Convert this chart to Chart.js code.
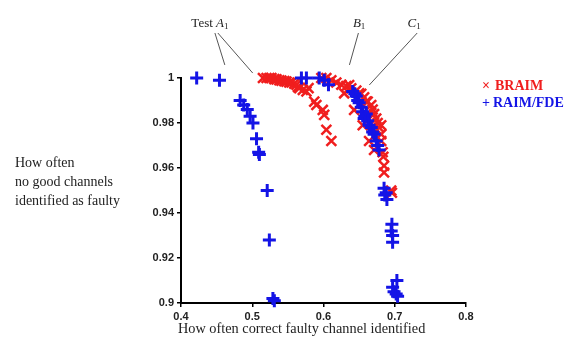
<!DOCTYPE html>
<html>
<head>
<meta charset="utf-8">
<script src="https://cdn.jsdelivr.net/npm/chart.js@4/dist/chart.umd.min.js"></script>
<style>
  html, body { margin: 0; padding: 0; background: #fff; }
  #wrap { width: 568px; height: 345px; }
</style>
</head>
<body>
<div id="wrap"><canvas id="grafico"></canvas></div>
<script>
// BRAIM (red x) - both test groups
const braimX = [
  0.515, 0.520, 0.524, 0.527, 0.531, 0.534, 0.538, 0.541, 0.545, 0.548, 0.552, 0.555, 0.559, 0.562,
  0.564, 0.566, 0.571, 0.576, 0.579, 0.587, 0.590, 0.599, 0.601, 0.604, 0.611,
  0.597, 0.604, 0.611, 0.618, 0.625, 0.632, 0.636, 0.639, 0.646, 0.650, 0.653, 0.657, 0.660, 0.662,
  0.667, 0.669, 0.671, 0.674, 0.676, 0.678, 0.681, 0.681, 0.681, 0.683, 0.684, 0.685, 0.685,
  0.629, 0.643, 0.655, 0.664, 0.671, 0.695, 0.696
];
const braimY = [
  1.000, 1.000, 1.000, 1.000, 0.9995, 0.9994, 0.999, 0.9988, 0.9986, 0.9984, 0.998, 0.998, 0.9975, 0.997,
  0.996, 0.9955, 0.9947, 0.994, 0.9955, 0.9895, 0.988, 0.9858, 0.9836, 0.977, 0.972,
  1.000, 1.000, 0.999, 0.998, 0.997, 0.9964, 0.9969, 0.9954, 0.9944, 0.9932, 0.993, 0.9914, 0.9895, 0.9895,
  0.988, 0.986, 0.984, 0.982, 0.980, 0.978, 0.979, 0.975, 0.972, 0.967, 0.965, 0.961, 0.958,
  0.9932, 0.9858, 0.979, 0.972, 0.968, 0.950, 0.949
];

// RAIM/FDE (blue +)
const raimX = [
  0.422, 0.454, 0.483, 0.488, 0.493, 0.497, 0.501, 0.506, 0.509, 0.510, 0.521, 0.524, 0.529, 0.531,
  0.569, 0.576, 0.594, 0.601, 0.607,
  0.641, 0.644, 0.646, 0.648, 0.650, 0.653, 0.655, 0.657, 0.658, 0.660, 0.662, 0.664, 0.667, 0.669,
  0.671, 0.674, 0.676, 0.678,
  0.685, 0.688, 0.686, 0.689, 0.696, 0.695, 0.697, 0.697, 0.703, 0.697, 0.699, 0.702, 0.704
];
const raimY = [
  1.000, 0.999, 0.990, 0.988, 0.986, 0.983, 0.980, 0.973, 0.967, 0.966, 0.950, 0.928, 0.902, 0.901,
  1.000, 1.000, 1.000, 0.999, 0.997,
  0.994, 0.993, 0.992, 0.990, 0.989, 0.987, 0.985, 0.982, 0.983, 0.984, 0.981, 0.979, 0.978, 0.976,
  0.975, 0.972, 0.970, 0.968,
  0.951, 0.949, 0.948, 0.946, 0.935, 0.932, 0.930, 0.927, 0.910, 0.907, 0.905, 0.904, 0.903
];

const xTicks = [0.4, 0.5, 0.6, 0.7, 0.8];
const yTicks = [0.9, 0.92, 0.94, 0.96, 0.98, 1];

const yTitle = ['How often', 'no good channels', 'identified as faulty'];
const xTitle = 'How often correct faulty channel identified';

// etiquetas de prueba: texto y lineas guia en coordenadas de datos
const notas = [
  { letra: 'A', prefijo: 'Test ', x: 0.4406, y: 1.0244,
    lineas: [[0.4476, 1.020, 0.4615, 1.0058], [0.4517, 1.020, 0.5007, 1.0022]] },
  { letra: 'B', prefijo: '', x: 0.650, y: 1.0244,
    lineas: [[0.649, 1.020, 0.6364, 1.0058]] },
  { letra: 'C', prefijo: '', x: 0.7273, y: 1.0244,
    lineas: [[0.7315, 1.020, 0.6643, 0.9969]] }
];

const rojo = '#f01e1e';
const azul = '#1414e6';

const toPts = (xs, ys) => xs.map((x, i) => ({ x: x, y: ys[i] }));

const extras = {
  id: 'extras',
  afterDraw(chart) {
    const ctx = chart.ctx;
    const xs = chart.scales.x, ys = chart.scales.y;
    const area = chart.chartArea;
    ctx.save();

    // titulo eje y (horizontal, a la izquierda)
    ctx.fillStyle = '#222';
    ctx.font = '14px "Liberation Serif", serif';
    ctx.textAlign = 'left';
    ctx.textBaseline = 'middle';
    yTitle.forEach((t, i) => ctx.fillText(t, 15, 163 + i * 19));

    // titulo eje x
    ctx.font = '14.3px "Liberation Serif", serif';
    ctx.fillText(xTitle, area.left - 3, 329);

    // leyenda
    ctx.font = 'bold 14px "Liberation Serif", serif';
    ctx.fillStyle = rojo;
    ctx.fillText('\u00d7', 482, 86);
    ctx.fillText('BRAIM', 495, 86);
    ctx.fillStyle = azul;
    ctx.fillText('+', 482, 103);
    ctx.fillText('RAIM/FDE', 493, 103);

    // notas A1, B1, C1
    ctx.strokeStyle = '#555';
    ctx.lineWidth = 1;
    notas.forEach(n => {
      n.lineas.forEach(l => {
        ctx.beginPath();
        ctx.moveTo(xs.getPixelForValue(l[0]), ys.getPixelForValue(l[1]));
        ctx.lineTo(xs.getPixelForValue(l[2]), ys.getPixelForValue(l[3]));
        ctx.stroke();
      });
      const px = xs.getPixelForValue(n.x), py = ys.getPixelForValue(n.y);
      ctx.fillStyle = '#222';
      ctx.font = '13px "Liberation Serif", serif';
      const w1 = ctx.measureText(n.prefijo).width;
      ctx.font = 'italic 13px "Liberation Serif", serif';
      const w2 = ctx.measureText(n.letra).width;
      ctx.font = '9px "Liberation Serif", serif';
      const w3 = ctx.measureText('1').width;
      let cx = px - (w1 + w2 + w3) / 2;
      ctx.textAlign = 'left';
      ctx.font = '13px "Liberation Serif", serif';
      ctx.fillText(n.prefijo, cx, py);
      cx += w1;
      ctx.font = 'italic 13px "Liberation Serif", serif';
      ctx.fillText(n.letra, cx, py);
      cx += w2;
      ctx.font = '9px "Liberation Serif", serif';
      ctx.fillText('1', cx, py + 4);
    });

    ctx.restore();
  }
};

new Chart(document.getElementById('grafico'), {
  type: 'scatter',
  data: {
    datasets: [
      {
        label: 'RAIM/FDE',
        data: toPts(raimX, raimY),
        pointStyle: 'cross',
        pointRadius: 6.5,
        borderColor: azul,
        backgroundColor: azul,
        pointBorderWidth: 3,
        clip: false,
        order: 0
      },
      {
        label: 'BRAIM',
        data: toPts(braimX, braimY),
        pointStyle: 'crossRot',
        pointRadius: 7,
        borderColor: rojo,
        backgroundColor: rojo,
        pointBorderWidth: 2.5,
        clip: false,
        order: 1
      }
    ]
  },
  options: {
    responsive: true,
    maintainAspectRatio: false,
    animation: false,
    layout: { padding: { left: 140, right: 102, top: 78, bottom: 0 } },
    plugins: {
      legend: { display: false },
      tooltip: { enabled: false }
    },
    scales: {
      x: {
        type: 'linear',
        min: 0.4,
        max: 0.8,
        afterBuildTicks: s => { s.ticks = xTicks.map(v => ({ value: v })); },
        afterFit: s => { s.height = 42; },
        grid: { drawOnChartArea: false, drawTicks: true, tickLength: 4, color: '#000', lineWidth: 1.5 },
        border: { color: '#000', width: 2 },
        ticks: {
          color: '#222',
          padding: 3,
          font: { family: '"Liberation Sans", Arial, sans-serif', size: 11, weight: 'bold' },
          callback: v => String(+v.toFixed(2))
        }
      },
      y: {
        type: 'linear',
        min: 0.9,
        max: 1,
        afterBuildTicks: s => { s.ticks = yTicks.map(v => ({ value: v })); },
        afterFit: s => { s.width = 41; },
        grid: { drawOnChartArea: false, drawTicks: true, tickLength: 4, color: '#000', lineWidth: 1.5 },
        border: { color: '#000', width: 2 },
        ticks: {
          color: '#222',
          padding: 3,
          font: { family: '"Liberation Sans", Arial, sans-serif', size: 11, weight: 'bold' },
          callback: v => String(+v.toFixed(2))
        }
      }
    }
  },
  plugins: [extras]
});
</script>
</body>
</html>
